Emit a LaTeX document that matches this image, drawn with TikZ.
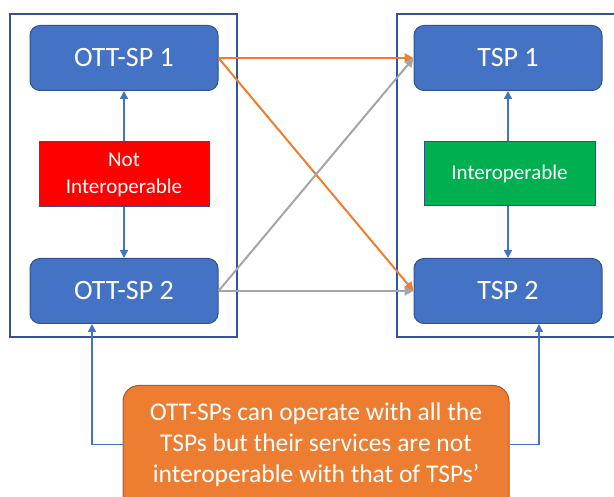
\documentclass[tikz,border=0pt]{standalone}
\usepackage{fontspec}
\setmainfont{Carlito}
\usetikzlibrary{arrows.meta,calc}
\definecolor{boxblue}{HTML}{4472C4}
\definecolor{boxedge}{HTML}{2F528F}
\definecolor{contedge}{HTML}{2F5597}
\definecolor{redfill}{HTML}{FF0000}
\definecolor{greenfill}{HTML}{00B050}
\definecolor{orangefill}{HTML}{ED7D31}
\definecolor{orangeedge}{HTML}{AE5A21}
\definecolor{grayline}{HTML}{A5A5A5}
\tikzset{
  spbox/.style={draw=boxedge, line width=1pt, fill=boxblue, rounded corners=10pt, minimum width=188pt, minimum height=65pt, inner sep=0pt, text=white, font=\fontsize{28}{32}\selectfont},
  statusbox/.style={draw=boxedge, line width=1pt, minimum width=170pt, minimum height=65pt, inner sep=0pt, text=white, align=center, font=\fontsize{21}{27}\selectfont},
  container/.style={draw=contedge, line width=1.6pt},
  bluearrow/.style={draw=boxblue, line width=1.5pt, -{Triangle[length=8pt,width=8pt]}},
  orangearrow/.style={draw=orangefill, line width=2pt, -{Triangle[length=9pt,width=9pt]}},
  grayarrow/.style={draw=grayline, line width=2pt, -{Triangle[length=9pt,width=9pt]}},
}
\begin{document}
\begin{tikzpicture}[x=1pt,y=-1pt]
\useasboundingbox (0,0) rectangle (614,497);
\clip (0,0) rectangle (614,497);
% containers
\draw[container] (10,14) rectangle (237,337);
\draw[container] (397,14) rectangle (620,337);
% nodes
\node[spbox] (ott1) at (124,58) {OTT-SP 1};
\node[spbox] (ott2) at (124,291) {OTT-SP 2};
\node[spbox] (tsp1) at (508,58) {TSP 1};
\node[spbox] (tsp2) at (508,291) {TSP 2};
\node[statusbox, fill=redfill] (notint) at (124,174.5) {\raisebox{-3pt}{\parbox{165pt}{\centering Not\\Interoperable}}};
\node[statusbox, fill=greenfill, minimum width=171pt, minimum height=64pt] (inter) at (509.5,174) {\raisebox{-2pt}{Interoperable}};
% vertical arrows
\draw[bluearrow] (notint.north) -- (ott1.south);
\draw[bluearrow] (notint.south) -- (ott2.north);
\draw[bluearrow] (inter.north -| tsp1.south) -- (tsp1.south);
\draw[bluearrow] (inter.south -| tsp2.north) -- (tsp2.north);
% cross arrows
\draw[orangearrow] (ott1.east) -- (tsp1.west);
\draw[orangearrow] (ott1.east) -- (tsp2.west);
\draw[grayarrow] (ott2.east) -- (tsp1.west);
\draw[grayarrow] (ott2.east) -- (tsp2.west);
% bottom box
\node[draw=orangeedge, line width=1pt, fill=orangefill, rounded corners=16pt, minimum width=386pt, minimum height=150pt, anchor=north, inner sep=0pt] (obox) at (316,385) {};
\node[text=white, align=center, font=\fontsize{25.5}{31}\selectfont, inner sep=0pt] (otext) at (316,444.5) {OTT-SPs can operate with all the\\TSPs but their services are not\\interoperable with that of TSPs’};
\draw[bluearrow] (obox.west |- otext) -| ([xshift=-32pt]ott2.south);
\draw[bluearrow] (obox.east |- otext) -| ([xshift=31pt]tsp2.south);
\end{tikzpicture}
\end{document}
